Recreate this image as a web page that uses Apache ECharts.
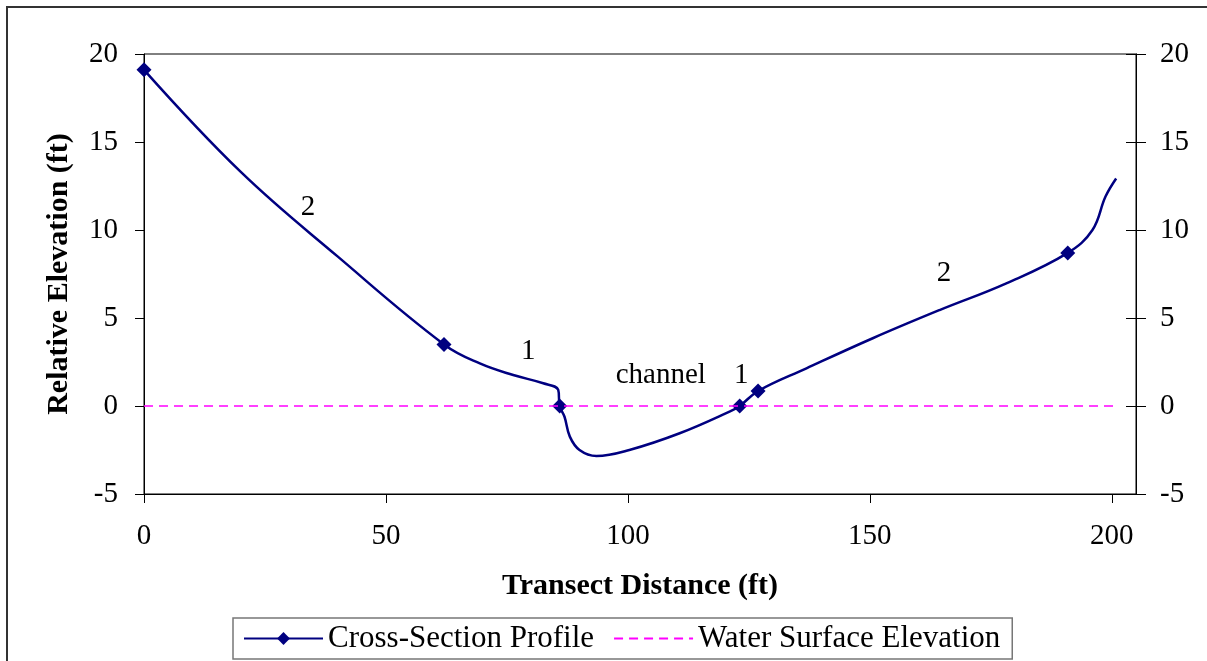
<!DOCTYPE html>
<html><head><meta charset="utf-8">
<script src="https://cdn.jsdelivr.net/npm/echarts@6/dist/echarts.min.js"></script>
<style>html,body{margin:0;padding:0;background:#fff}#c{width:1207px;height:661px}</style>
</head><body><div id="c"></div>
<script>
// Cross-section profile; marked = drawn with a diamond marker
const profileX = [0, 20, 40, 62, 69.4, 76.3, 82.5, 85.6, 85.9, 86.9, 88.0, 90.0, 93.5, 100.3, 110.7, 121.0, 123.1, 126.9, 136.9, 150.6, 164.4, 178.2, 190.9, 196.0, 198.7, 200.9];
const profileY = [19.1, 13.3, 8.5, 3.5, 2.42, 1.76, 1.29, 0.91, 0, -0.61, -1.74, -2.5, -2.84, -2.5, -1.55, -0.32, 0, 0.85, 2.14, 3.85, 5.45, 6.97, 8.7, 10.0, 11.9, 12.93];
const profileMarked = [1,0,0,1,0,0,0,0,1,0,0,0,0,0,0,0,1,1,0,0,0,0,1,0,0,0];
// Water surface elevation
const waterX = [0, 201];
const waterY = [0, 0];
// Text annotations
const noteText = ['2', '1', 'channel', '1', '2'];
const noteX = [33.9, 79.4, 106.8, 123.4, 165.3];
const noteY = [11.3, 3.1, 1.75, 1.75, 7.55];
// Axis ticks
const xTickValues = [0, 50, 100, 150, 200];
const yTickValues = [-5, 0, 5, 10, 15, 20];

const FONT = "'Liberation Serif','Times New Roman',serif";
const chart = echarts.init(document.getElementById('c'), null, {renderer: 'canvas'});

const profileData = profileX.map((x, i) => ({
  value: [x, profileY[i]],
  symbol: profileMarked[i] ? 'diamond' : 'none'
}));
const waterData = waterX.map((x, i) => [x, waterY[i]]);
const noteData = noteText.map((t, i) => ({name: t, value: [noteX[i], noteY[i]]}));

const yBase = {
  type: 'value',
  min: yTickValues[0],
  max: yTickValues[yTickValues.length - 1],
  interval: 5,
  splitLine: {show: false},
  axisLine: {show: true, lineStyle: {color: '#000', width: 1}},
  axisTick: {show: true, length: 9, lineStyle: {color: '#000', width: 1}},
  axisLabel: {color: '#000', fontFamily: FONT, fontSize: 29, margin: 24}
};

chart.setOption({
  animation: false,
  backgroundColor: '#fff',
  graphic: [{
    type: 'rect',
    shape: {x: 7, y: 7, width: 1220, height: 680},
    style: {fill: 'none', stroke: '#333', lineWidth: 2},
    silent: true
  }],
  grid: {left: 144, right: 71, top: 54, bottom: 167, show: true, borderColor: '#000', borderWidth: 1, backgroundColor: 'transparent'},
  legend: {
    left: 233, top: 618,
    data: [
      {name: 'Cross-Section Profile'},
      {name: 'Water Surface Elevation', itemStyle: {color: 'rgba(0,0,0,0)', borderWidth: 0, opacity: 0}}
    ],
    itemWidth: 79, itemHeight: 16, itemGap: 19,
    padding: [5, 12, 5, 10],
    borderColor: '#777', borderWidth: 1.5,
    textStyle: {color: '#000', fontFamily: FONT, fontSize: 31}
  },
  xAxis: {
    type: 'value', min: 0, max: 205,
    splitLine: {show: false},
    axisLine: {onZero: false, lineStyle: {color: '#000', width: 1}},
    axisTick: {show: true, length: 9, customValues: xTickValues, lineStyle: {color: '#000', width: 1}},
    axisLabel: {color: '#000', fontFamily: FONT, fontSize: 29, margin: 28, customValues: xTickValues},
    name: 'Transect Distance (ft)', nameLocation: 'middle', nameGap: 77,
    nameTextStyle: {color: '#000', fontFamily: FONT, fontSize: 30, fontWeight: 'bold'}
  },
  yAxis: [
    Object.assign({}, yBase, {
      position: 'left',
      axisLabel: Object.assign({}, yBase.axisLabel, {margin: 26}),
      name: 'Relative Elevation (ft)', nameLocation: 'middle', nameGap: 70, nameRotate: 90,
      nameTextStyle: {color: '#000', fontFamily: FONT, fontSize: 30, fontWeight: 'bold'}
    }),
    Object.assign({}, yBase, {position: 'right', axisTick: {show: true, length: 10, lineStyle: {color: '#000'}}}),
    Object.assign({}, yBase, {position: 'right', axisLabel: {show: false}, axisTick: {show: true, inside: true, length: 10, lineStyle: {color: '#000'}}})
  ],
  series: [
    {
      name: 'Cross-Section Profile', type: 'line', smooth: 0.4,
      data: profileData, symbol: 'diamond', symbolSize: 15,
      itemStyle: {color: '#000080', borderWidth: 0},
      lineStyle: {color: '#000080', width: 2.5},
      emphasis: {disabled: true}, z: 2
    },
    {
      name: 'Water Surface Elevation', type: 'line',
      data: waterData, symbol: 'none',
      itemStyle: {color: '#FF00FF'},
      lineStyle: {color: '#FF00FF', width: 1.5, type: [9, 6]},
      emphasis: {disabled: true}, z: 3
    },
    {
      name: 'notes', type: 'scatter', data: noteData,
      symbolSize: 0, silent: true,
      itemStyle: {opacity: 1},
      label: {show: true, position: 'inside', formatter: p => p.name, color: '#000', opacity: 1, fontFamily: FONT, fontSize: 29},
      emphasis: {disabled: true}, z: 4
    }
  ]
});
</script></body></html>
